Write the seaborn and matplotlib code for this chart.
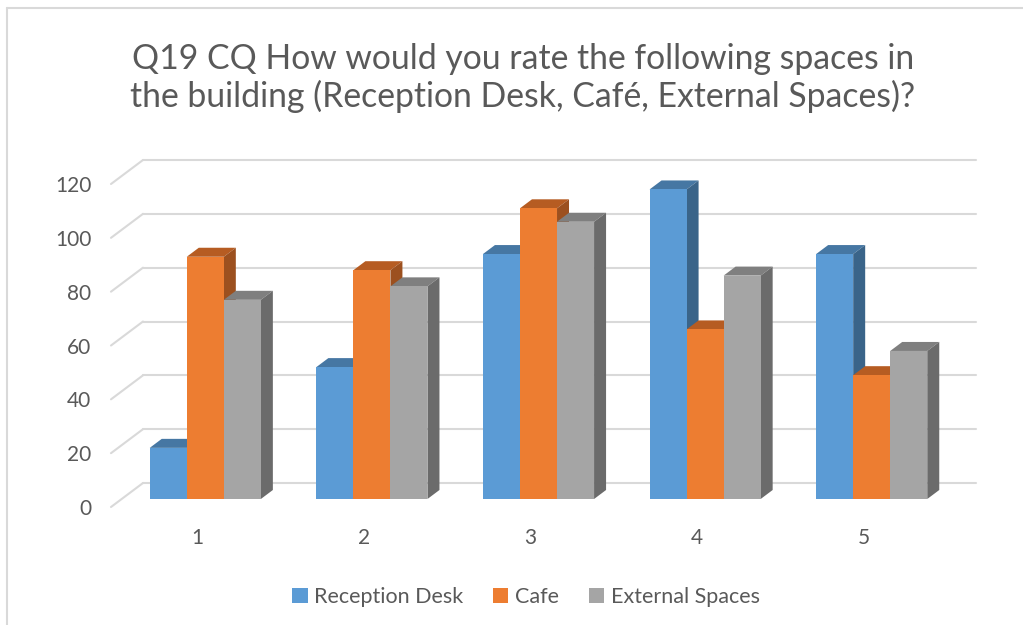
import matplotlib
matplotlib.use('Agg')
import matplotlib.pyplot as plt
from matplotlib.patches import Polygon
from matplotlib.lines import Line2D
from matplotlib.transforms import ScaledTranslation
import pandas as pd
import seaborn as sns

# Data
ratings = ['1', '2', '3', '4', '5']
spaces = ['Reception Desk', 'Cafe', 'External Spaces']
reception = [19, 49, 91, 115, 91]
cafe = [90, 85, 108, 63, 46]
external = [74, 79, 103, 83, 55]
yticks = [0, 20, 40, 60, 80, 100, 120]
title = 'Q19 CQ How would you rate the following spaces in\nthe building (Reception Desk, Café, External Spaces)?'

front_colors = ['#5B9BD5', '#ED7D31', '#A5A5A5']
top_colors = ['#4677A3', '#B65C22', '#7F7F7F']
side_colors = ['#3A6489', '#9C501F', '#6B6B6B']
text_color = '#595959'
grid_color = '#D9D9D9'

df = pd.DataFrame({
    'rating': ratings * 3,
    'space': [s for s in spaces for _ in ratings],
    'count': reception + cafe + external,
})

sns.set_style('white')
plt.rcParams['font.family'] = ['Lato', 'DejaVu Sans']

W, H = 1023, 625
fig = plt.figure(figsize=(W / 100, H / 100), dpi=100)
ax = fig.add_axes([122 / W, (H - 499) / H, 833 / W, 323 / H])

sns.barplot(data=df, x='rating', y='count', hue='space', palette=front_colors,
            saturation=1, width=0.667, errorbar=None, ax=ax, linewidth=0)

ax.set_xlim(-0.5, 4.5)
ax.set_ylim(0, 120)
sns.despine(ax=ax, left=True, bottom=True)
ax.set_xlabel('')
ax.set_ylabel('')

# pixel -> data unit helpers
dxp = 5 / 833
dyp = 120 / 323

# back wall gridlines with the floor diagonals
for v in yticks:
    ax.plot([-0.5 + 21 * dxp, 4.5 + 21 * dxp], [v + 16 * dyp, v + 16 * dyp],
            color=grid_color, lw=1.5, zorder=1, clip_on=False)
    ax.plot([-0.5 - 11 * dxp, -0.5 + 21 * dxp], [v - 8 * dyp, v + 16 * dyp],
            color=grid_color, lw=1.5, zorder=1, clip_on=False)

# fake 3D depth on every bar
ox, oy = 12 * dxp, 9 * dyp
for k, cont in enumerate(ax.containers):
    for bar in cont:
        x0, w, h = bar.get_x(), bar.get_width(), bar.get_height()
        bar.set_zorder(3 + k)
        bar.set_clip_on(False)
        top = Polygon([(x0, h), (x0 + w, h), (x0 + w + ox, h + oy), (x0 + ox, h + oy)],
                      closed=True, facecolor=top_colors[k], edgecolor='none',
                      zorder=2.9 + k, clip_on=False)
        side = Polygon([(x0 + w, 0), (x0 + w + ox, oy), (x0 + w + ox, h + oy), (x0 + w, h)],
                       closed=True, facecolor=side_colors[k], edgecolor='none',
                       zorder=2.9 + k, clip_on=False)
        ax.add_patch(top)
        ax.add_patch(side)

ax.set_yticks(yticks)
ax.set_yticklabels([str(v) for v in yticks])
ax.tick_params(axis='y', length=0, pad=22, labelsize=15, labelcolor=text_color)
ax.tick_params(axis='x', length=0, pad=21, labelsize=15, labelcolor=text_color)
for t in ax.yaxis.get_major_ticks():
    t.label1.set_transform(t.label1.get_transform() + ScaledTranslation(0, -0.08, fig.dpi_scale_trans))
for t in ax.xaxis.get_major_ticks():
    t.label1.set_transform(t.label1.get_transform() + ScaledTranslation(-0.08, 0, fig.dpi_scale_trans))

sns.move_legend(ax, 'center', bbox_to_anchor=(526 / W, 1 - 597 / H),
                bbox_transform=fig.transFigure, ncol=3, frameon=False, title=None,
                fontsize=15.5, handlelength=0.7, handleheight=0.7,
                handletextpad=0.3, columnspacing=1.4)
for txt in ax.get_legend().get_texts():
    txt.set_color(text_color)

fig.text(523 / W, 1 - 78 / H, title, ha='center', va='center', fontsize=24.3,
         color=text_color, linespacing=1.2)

# chart frame
fig.add_artist(Line2D([7 / W, 1], [1 - 8 / H, 1 - 8 / H], color=grid_color, lw=1.5))
fig.add_artist(Line2D([7 / W, 7 / W], [0, 1 - 8 / H], color=grid_color, lw=1.5))

fig.savefig('out.png', dpi=100, facecolor='white')
